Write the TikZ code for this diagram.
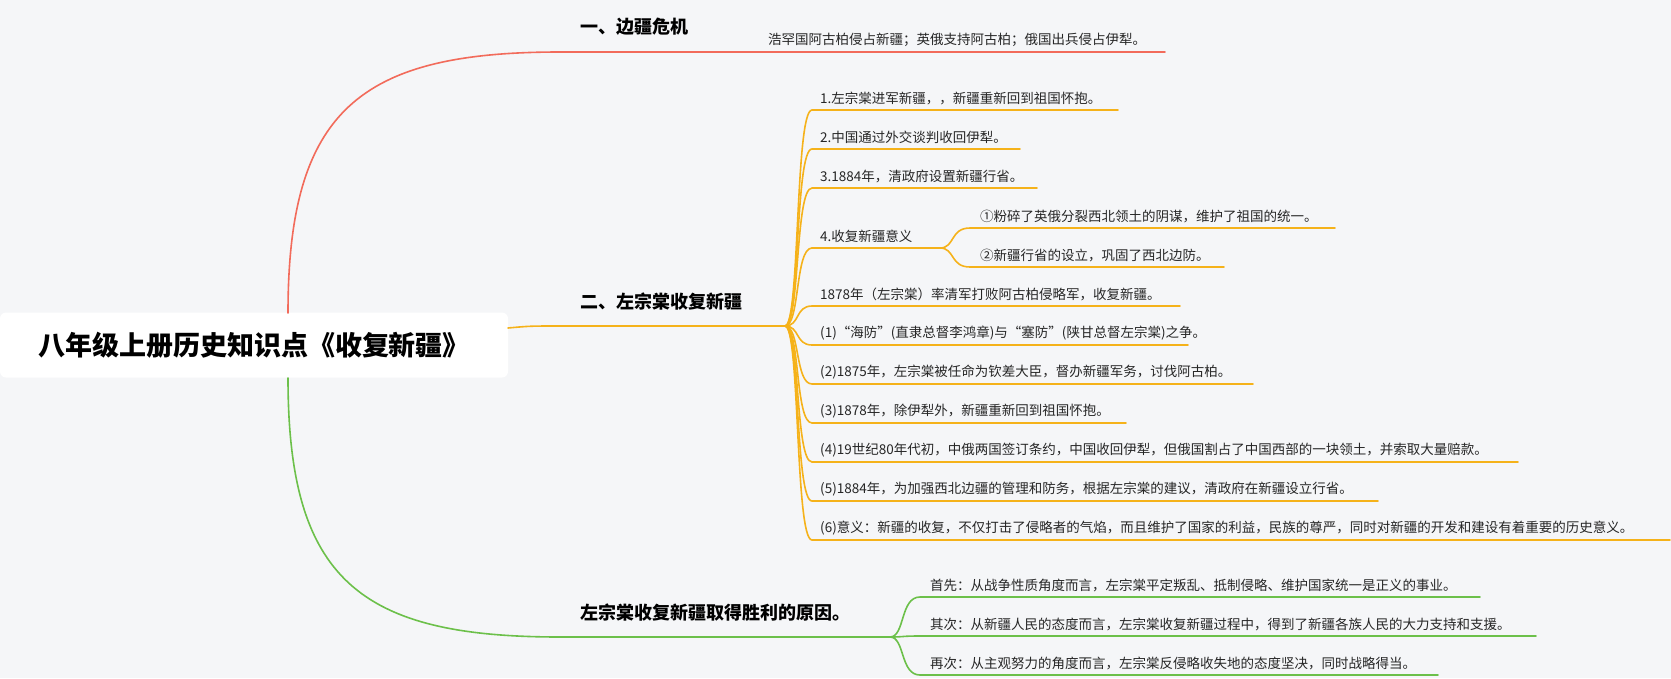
\documentclass[tikz,border=0pt]{standalone}
\usepackage{fontspec}
\setmainfont{Noto Sans CJK SC}
\definecolor{bg}{HTML}{F5F6F8}
\definecolor{cred}{HTML}{F26B5B}
\definecolor{corange}{HTML}{F5B21A}
\definecolor{cgreen}{HTML}{6CC04A}
\tikzset{
  leaf/.style={anchor=south west,inner sep=0pt,font=\fontsize{13.5}{14}\selectfont,text=black!85},
  title/.style={anchor=south west,inner sep=0pt,font=\fontsize{18}{20}\selectfont\bfseries},
  link/.style={line width=1.6pt,line cap=round}
}
\begin{document}
\begin{tikzpicture}[x=1pt,y=-1pt]
\fill[bg] (0,0) rectangle (1671,678);
% root
\node[fill=white,rounded corners=6pt,minimum width=508pt,minimum height=65pt,font=\fontsize{27}{30}\selectfont\bfseries] (root) at (254,345) {八年级上册历史知识点《收复新疆》};
\coordinate (rtop) at (288,313);
\coordinate (rbot) at (288,378);
\coordinate (rright) at (508,328);
% branch 1
\coordinate (h1) at (740,52);
\node[title] (t1) at (580,36) {一、边疆危机};
\draw[cred,link] (rtop) .. controls (288,110) and (360,52) .. (560,52) -- (h1);
\node[leaf] (l1) at (768,47) {浩罕国阿古柏侵占新疆；英俄支持阿古柏；俄国出兵侵占伊犁。};
\draw[cred,link] (h1) -- (1165,52);
% branch 2
\coordinate (h2) at (785,326);
\node[title] (t2) at (580,310) {二、左宗棠收复新疆};
\draw[corange,link] (rright) .. controls (530,326) .. (560,326) -- (h2);
\foreach \y/\e/\t [count=\i] in {
  110/1118/{1.左宗棠进军新疆，，新疆重新回到祖国怀抱。},
  149/1020/{2.中国通过外交谈判收回伊犁。},
  188/1037/{3.1884年，清政府设置新疆行省。},
  248/930/{4.收复新疆意义},
  306/1180/{1878年（左宗棠）率清军打败阿古柏侵略军，收复新疆。},
  345/1188/{(1)“海防”(直隶总督李鸿章)与“塞防”(陕甘总督左宗棠)之争。},
  384/1253/{(2)1875年，左宗棠被任命为钦差大臣，督办新疆军务，讨伐阿古柏。},
  423/1126/{(3)1878年，除伊犁外，新疆重新回到祖国怀抱。},
  462/1518/{(4)19世纪80年代初，中俄两国签订条约，中国收回伊犁，但俄国割占了中国西部的一块领土，并索取大量赔款。},
  501/1378/{(5)1884年，为加强西北边疆的管理和防务，根据左宗棠的建议，清政府在新疆设立行省。},
  540/1670/{(6)意义：新疆的收复，不仅打击了侵略者的气焰，而且维护了国家的利益，民族的尊严，同时对新疆的开发和建设有着重要的历史意义。}}
{
  \coordinate (s\i) at (812,\y);
  \node[leaf] (o\i) at (820,\y-5) {\t};
  \draw[corange,link] (h2) .. controls (800,326) and (795,\y) .. (s\i) -- (\e,\y);
}
\coordinate (h4) at (940,248);
\node[leaf] (m1) at (980,223) {①粉碎了英俄分裂西北领土的阴谋，维护了祖国的统一。};
\node[leaf] (m2) at (980,262) {②新疆行省的设立，巩固了西北边防。};
\draw[corange,link] (s4) -- (h4) .. controls (955,248) and (950,228) .. (970,228) -- (1335,228);
\draw[corange,link] (h4) .. controls (955,248) and (950,267) .. (970,267) -- (1224,267);
% branch 3
\coordinate (h3) at (890,637);
\node[title] (t3) at (580,621) {左宗棠收复新疆取得胜利的原因。};
\draw[cgreen,link] (rbot) .. controls (288,580) and (360,637) .. (560,637) -- (h3);
\foreach \y/\e/\t [count=\i] in {
  597/1480/{首先：从战争性质角度而言，左宗棠平定叛乱、抵制侵略、维护国家统一是正义的事业。},
  636/1536/{其次：从新疆人民的态度而言，左宗棠收复新疆过程中，得到了新疆各族人民的大力支持和支援。},
  675/1438/{再次：从主观努力的角度而言，左宗棠反侵略收失地的态度坚决，同时战略得当。}}
{
  \coordinate (g\i) at (920,\y);
  \node[leaf] (r\i) at (930,\y-5) {\t};
  \draw[cgreen,link] (h3) .. controls (905,637) and (900,\y) .. (g\i) -- (\e,\y);
}
\end{tikzpicture}
\end{document}
